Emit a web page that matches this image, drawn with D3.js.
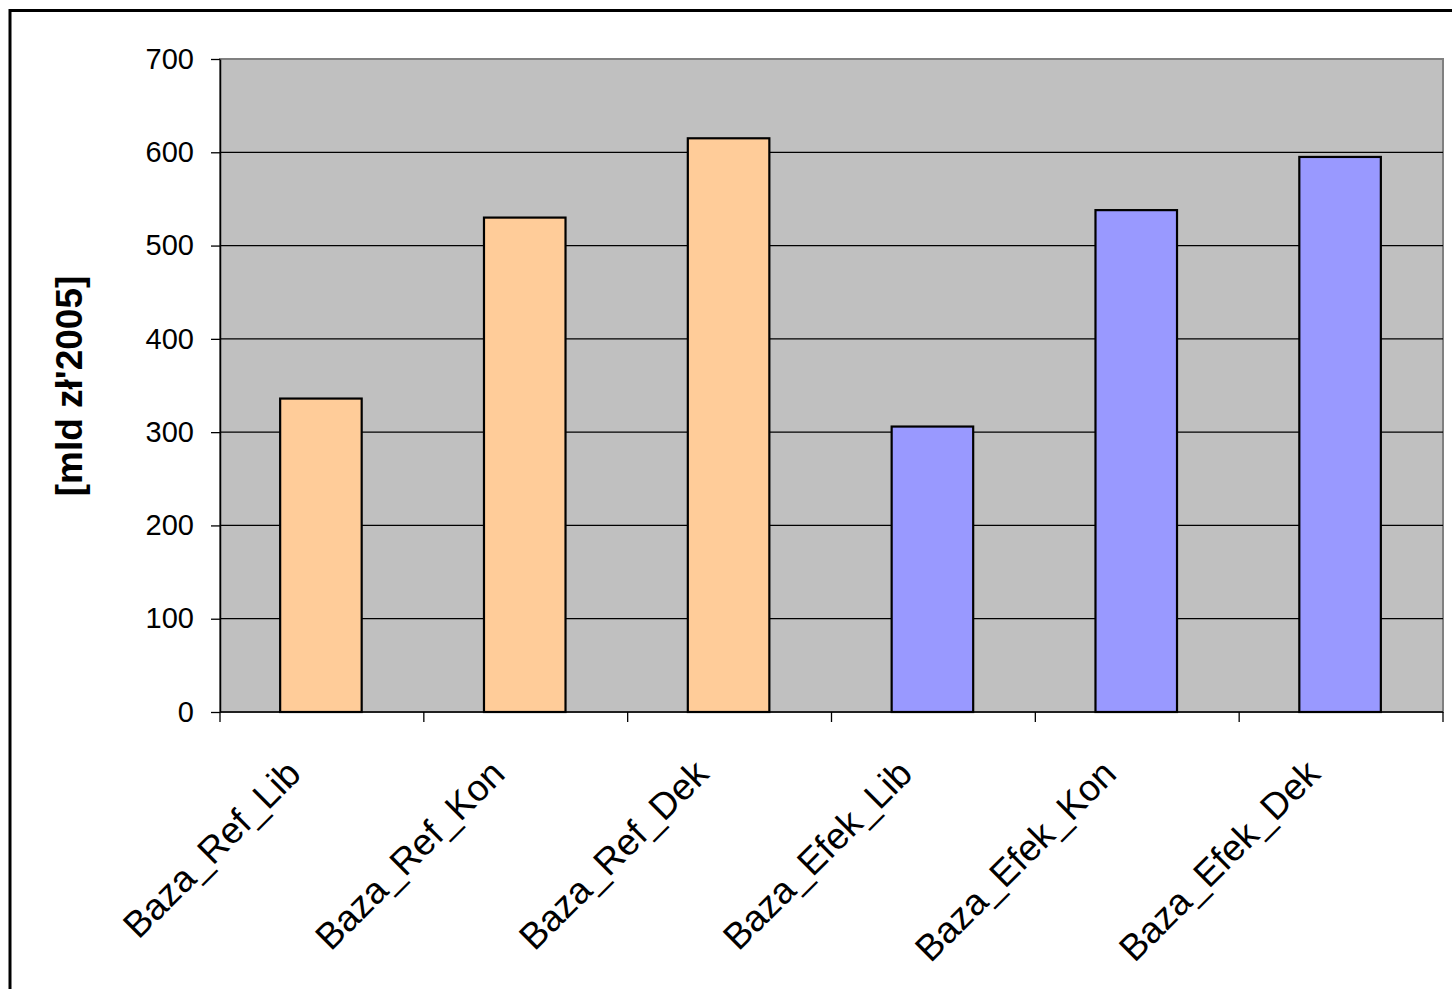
<!DOCTYPE html>
<html>
<head>
<meta charset="utf-8">
<script src="https://cdn.jsdelivr.net/npm/d3@7"></script>
<style>
  body { margin: 0; background: #fff; }
  svg { display: block; font-family: Arial, "Liberation Sans", sans-serif; }
</style>
</head>
<body>
<svg id="chart" width="1452" height="989"></svg>
<script>
// Scenario names and values (mld zł, prices of 2005)
const categories = ["Baza_Ref_Lib", "Baza_Ref_Kon", "Baza_Ref_Dek", "Baza_Efek_Lib", "Baza_Efek_Kon", "Baza_Efek_Dek"];
const values = [336, 530, 615, 306, 538, 595];
const barColors = ["#FFCC99", "#FFCC99", "#FFCC99", "#9999FF", "#9999FF", "#9999FF"];
const yTicks = [0, 100, 200, 300, 400, 500, 600, 700];
const yTitle = "[mld zł'2005]";

const svg = d3.select("#chart");
const plot = { left: 220, top: 59, right: 1443, bottom: 712 };

// outer chart frame (only top and left edges fall inside the view)
svg.append("rect")
  .attr("x", 10).attr("y", 10.5)
  .attr("width", 1500).attr("height", 1100)
  .attr("fill", "none").attr("stroke", "#000").attr("stroke-width", 3);

const x = d3.scaleBand().domain(categories).range([plot.left, plot.right]).paddingInner(0).paddingOuter(0);
const y = d3.scaleLinear().domain([0, 700]).range([plot.bottom, plot.top]);

// plot area background
svg.append("rect")
  .attr("x", plot.left).attr("y", plot.top)
  .attr("width", plot.right - plot.left).attr("height", plot.bottom - plot.top)
  .attr("fill", "#C0C0C0").attr("stroke", "#808080").attr("stroke-width", 2);

// horizontal gridlines
svg.append("g").selectAll("line").data(yTicks.filter(d => d > 0 && d < 700)).join("line")
  .attr("x1", plot.left).attr("x2", plot.right)
  .attr("y1", d => y(d)).attr("y2", d => y(d))
  .attr("stroke", "#000").attr("stroke-width", 1.3);

// bars
const barW = x.bandwidth() * 0.4;
svg.append("g").selectAll("rect").data(categories).join("rect")
  .attr("x", d => x(d) + (x.bandwidth() - barW) / 2 - 1)
  .attr("y", (d, i) => y(values[i]))
  .attr("width", barW)
  .attr("height", (d, i) => y(0) - y(values[i]))
  .attr("fill", (d, i) => barColors[i])
  .attr("stroke", "#000").attr("stroke-width", 2.2);

// y axis
const yAxis = d3.axisLeft(y).tickValues(yTicks).tickSize(9).tickPadding(17).tickSizeOuter(0);
const gy = svg.append("g").attr("transform", `translate(${plot.left},0)`).call(yAxis);
gy.select(".domain").attr("stroke", "#000").attr("stroke-width", 1.5);
gy.selectAll(".tick line").attr("stroke", "#000").attr("stroke-width", 1.3);
gy.selectAll(".tick text").attr("font-size", 29).attr("fill", "#000")
  .attr("font-family", "Arial, 'Liberation Sans', sans-serif");

// x axis: ticks at category boundaries
const boundaries = categories.map(d => x(d)).concat([plot.right]);
const gx = svg.append("g");
gx.append("line")
  .attr("x1", plot.left).attr("x2", plot.right)
  .attr("y1", plot.bottom).attr("y2", plot.bottom)
  .attr("stroke", "#000").attr("stroke-width", 1.5);
gx.selectAll("line.tk").data(boundaries).join("line").attr("class", "tk")
  .attr("x1", d => d).attr("x2", d => d)
  .attr("y1", plot.bottom).attr("y2", plot.bottom + 10)
  .attr("stroke", "#000").attr("stroke-width", 1.3);

// rotated category labels
gx.selectAll("text").data(categories).join("text")
  .attr("transform", d => `translate(${x(d) + x.bandwidth() / 2 - 19},${plot.bottom + 64}) rotate(-45)`)
  .attr("text-anchor", "end")
  .attr("font-size", 37)
  .attr("fill", "#000")
  .text(d => d);

// y axis title
svg.append("text")
  .attr("transform", `translate(81.5,386) rotate(-90)`)
  .attr("text-anchor", "middle")
  .attr("font-size", 37)
  .attr("font-weight", "bold")
  .attr("fill", "#000")
  .text(yTitle);
</script>
</body>
</html>
